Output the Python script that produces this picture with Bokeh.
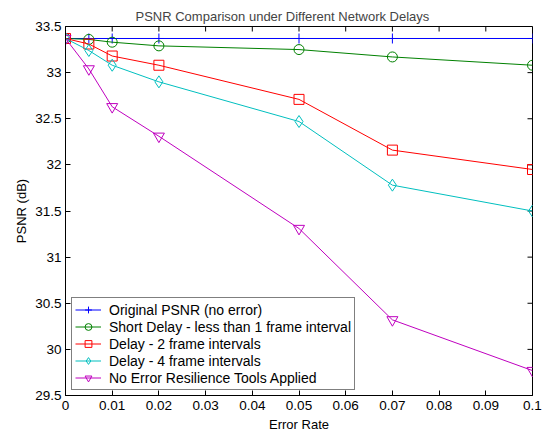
from bokeh.plotting import figure
from bokeh.models import Range1d, FixedTicker, CustomJSTickFormatter
from bokeh.embed import file_html
from bokeh.resources import INLINE

error_rate = [0, 0.005, 0.01, 0.02, 0.05, 0.07, 0.1]
original = [33.37, 33.37, 33.37, 33.37, 33.37, 33.37, 33.37]
short_delay = [33.37, 33.36, 33.33, 33.29, 33.25, 33.17, 33.08]
delay_2 = [33.37, 33.31, 33.18, 33.08, 32.71, 32.16, 31.95]
delay_4 = [33.37, 33.24, 33.08, 32.90, 32.47, 31.78, 31.50]
no_tools = [33.37, 33.04, 32.63, 32.31, 31.31, 30.32, 29.77]

x_ticks = [0, 0.01, 0.02, 0.03, 0.04, 0.05, 0.06, 0.07, 0.08, 0.09, 0.1]
y_ticks = [29.5, 30, 30.5, 31, 31.5, 32, 32.5, 33, 33.5]

series = [
    ("Original PSNR (no error)", original, "#0000FF", "cross", 10),
    ("Short Delay - less than 1 frame interval", short_delay, "#008000", "circle", 10),
    ("Delay - 2 frame intervals", delay_2, "#FF0000", "square", 10),
    ("Delay - 4 frame intervals", delay_4, "#00BFBF", "diamond", 12),
    ("No Error Resilience Tools Applied", no_tools, "#BF00BF", "inverted_triangle", 11),
]

FONT = "Liberation Sans"
W, H = 543, 435
BL, BR, BT, BB = 65, 11, 26, 40
TICK = 5

x0, x1 = x_ticks[0], x_ticks[-1]
y0, y1 = y_ticks[0], y_ticks[-1]

p = figure(width=W, height=H, output_backend="svg", toolbar_location=None,
           x_range=Range1d(x0, x1), y_range=Range1d(y0, y1),
           min_border_left=BL, min_border_right=BR, min_border_top=BT,
           min_border_bottom=BB, background_fill_color="white",
           border_fill_color="white")

p.title.text = "PSNR Comparison under Different Network Delays"
p.title.align = "left"
p.title.offset = 70
p.title.text_font = FONT
p.title.text_font_size = "13px"
p.title.text_font_style = "normal"
p.title.standoff = 2
p.title.vertical_align = "top"

p.xgrid.visible = False
p.ygrid.visible = False
p.outline_line_color = "black"
p.outline_line_width = 1

fmt_x = CustomJSTickFormatter(code="""
var s = tick.toFixed(2);
s = s.replace(/0+$/, '').replace(/\\.$/, '');
return s;
""")
fmt_y = CustomJSTickFormatter(code="""
var s = tick.toFixed(1);
s = s.replace(/0+$/, '').replace(/\\.$/, '');
return s;
""")

def style_axis(ax, ticks):
    ax.ticker = FixedTicker(ticks=ticks)
    ax.major_tick_in = TICK
    ax.major_tick_out = 0
    ax.minor_tick_in = 0
    ax.minor_tick_out = 0
    ax.axis_line_color = "black"
    ax.major_tick_line_color = "black"
    ax.major_label_text_font = FONT
    ax.major_label_text_font_size = "13.5px"
    ax.major_label_text_color = "black"
    ax.axis_label_text_font = FONT
    ax.axis_label_text_font_size = "13px"
    ax.axis_label_text_font_style = "normal"
    ax.axis_label_text_color = "black"

xa = p.xaxis[0]
style_axis(xa, x_ticks)
xa.formatter = fmt_x
xa.axis_label = "Error Rate"
xa.major_label_standoff = 5
xa.axis_label_standoff = 4

ya = p.yaxis[0]
style_axis(ya, y_ticks)
ya.formatter = fmt_y
ya.axis_label = "PSNR (dB)"
ya.major_label_standoff = 4
ya.axis_label_standoff = 3

# inward ticks on the top and right edges (MATLAB box style)
frame_w = W - BL - BR
frame_h = H - BT - BB
dy = (y1 - y0) * TICK / frame_h
dx = (x1 - x0) * TICK / frame_w
p.segment(x0=x_ticks, y0=[y1] * len(x_ticks), x1=x_ticks, y1=[y1 - dy] * len(x_ticks),
          line_color="black", line_width=1)
p.segment(x0=[x1] * len(y_ticks), y0=y_ticks, x1=[x1 - dx] * len(y_ticks), y1=y_ticks,
          line_color="black", line_width=1)

for label, vals, color, marker, size in series:
    p.line(error_rate, vals, line_color=color, line_width=1, legend_label=label)
    p.scatter(error_rate, vals, marker=marker, size=size, line_color=color,
              fill_color=None, line_width=1, legend_label=label)

lg = p.legend[0]
lg.location = (6, 5)
lg.border_line_color = "black"
lg.border_line_width = 1
lg.background_fill_color = "white"
lg.background_fill_alpha = 1
lg.label_text_font = FONT
lg.label_text_font_size = "14px"
lg.label_text_color = "black"
lg.glyph_width = 26
lg.glyph_height = 17
lg.label_height = 17
lg.spacing = 0
lg.padding = 3
lg.margin = 0
lg.label_standoff = 8

open("out.html", "w").write(file_html(p, INLINE))
